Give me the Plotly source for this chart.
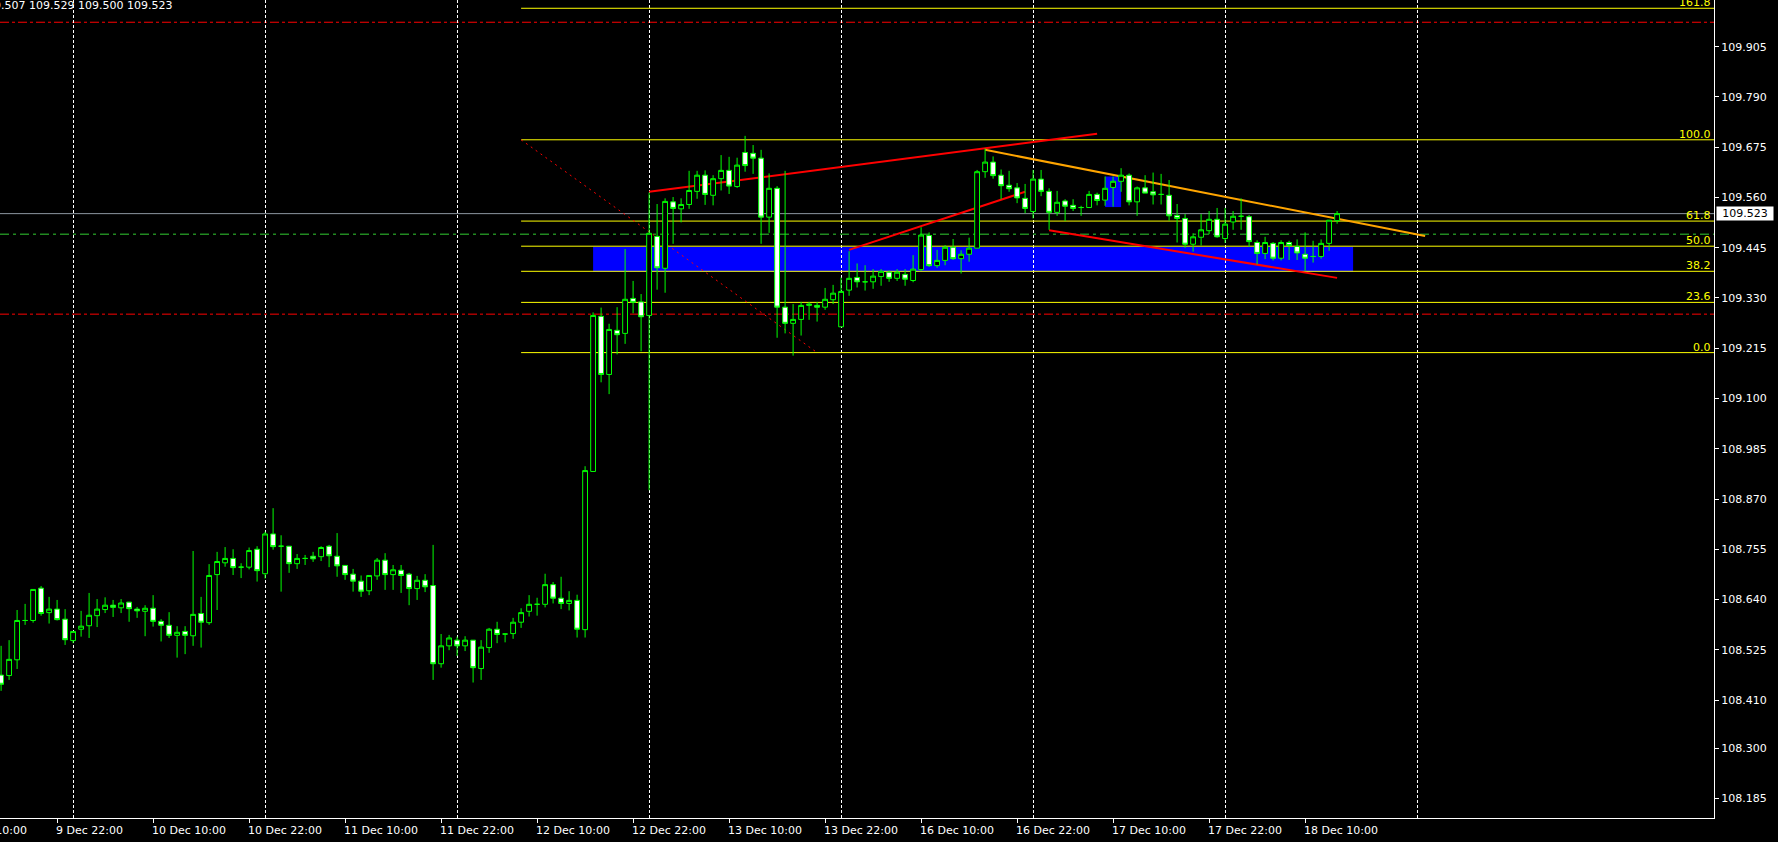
import plotly.graph_objects as go

# ---------------- data (USDJPY H1) ----------------
opens = [108.467, 108.466, 108.502, 108.592, 108.592, 108.666, 108.610, 108.618, 108.595, 108.546,
         108.572, 108.580, 108.603, 108.617, 108.627, 108.621, 108.634, 108.618, 108.613, 108.620,
         108.590, 108.581, 108.558, 108.567, 108.557, 108.608, 108.587, 108.697, 108.724, 108.734,
         108.714, 108.714, 108.755, 108.699, 108.790, 108.762, 108.762, 108.722, 108.734, 108.739,
         108.738, 108.762, 108.739, 108.718, 108.698, 108.682, 108.660, 108.694, 108.730, 108.697,
         108.707, 108.698, 108.665, 108.684, 108.672, 108.493, 108.534, 108.547, 108.534, 108.547,
         108.482, 108.530, 108.572, 108.561, 108.562, 108.588, 108.613, 108.629, 108.629, 108.674,
         108.643, 108.631, 108.638, 108.571, 108.933, 109.288, 109.155, 109.256, 109.249, 109.329,
         109.321, 109.290, 109.471, 109.398, 109.550, 109.534, 109.544, 109.574, 109.611, 109.565,
         109.603, 109.622, 109.585, 109.663, 109.661, 109.650, 109.515, 109.581, 109.309, 109.272,
         109.281, 109.313, 109.313, 109.309, 109.326, 109.264, 109.348, 109.377, 109.367, 109.367,
         109.379, 109.389, 109.375, 109.384, 109.370, 109.395, 109.473, 109.404, 109.416, 109.446,
         109.420, 109.430, 109.444, 109.619, 109.641, 109.611, 109.588, 109.582, 109.558, 109.528,
         109.602, 109.574, 109.526, 109.552, 109.542, 109.537, 109.537, 109.567, 109.554, 109.583,
         109.597, 109.611, 109.550, 109.582, 109.573, 109.567, 109.565, 109.519, 109.512, 109.453,
         109.469, 109.484, 109.510, 109.466, 109.504, 109.517, 109.516, 109.457, 109.432, 109.455,
         109.421, 109.457, 109.448, 109.430, 109.425, 109.425, 109.455, 109.507]
highs = [108.534, 108.547, 108.616, 108.630, 108.663, 108.671, 108.646, 108.639, 108.618, 108.567,
         108.614, 108.655, 108.641, 108.645, 108.639, 108.641, 108.634, 108.623, 108.627, 108.650,
         108.595, 108.611, 108.579, 108.579, 108.751, 108.646, 108.721, 108.749, 108.760, 108.755,
         108.723, 108.759, 108.762, 108.795, 108.849, 108.787, 108.762, 108.744, 108.742, 108.749,
         108.762, 108.765, 108.792, 108.718, 108.710, 108.695, 108.695, 108.735, 108.746, 108.719,
         108.719, 108.701, 108.694, 108.698, 108.765, 108.561, 108.559, 108.555, 108.556, 108.547,
         108.547, 108.575, 108.589, 108.562, 108.598, 108.620, 108.650, 108.644, 108.699, 108.680,
         108.692, 108.659, 108.651, 108.945, 109.297, 109.308, 109.271, 109.309, 109.442, 109.369,
         109.339, 109.571, 109.545, 109.558, 109.561, 109.558, 109.621, 109.621, 109.622, 109.611,
         109.657, 109.653, 109.651, 109.701, 109.680, 109.669, 109.615, 109.586, 109.621, 109.316,
         109.321, 109.321, 109.321, 109.353, 109.360, 109.377, 109.437, 109.409, 109.405, 109.396,
         109.396, 109.393, 109.396, 109.396, 109.428, 109.492, 109.480, 109.440, 109.451, 109.465,
         109.439, 109.468, 109.623, 109.672, 109.654, 109.624, 109.621, 109.593, 109.591, 109.623,
         109.623, 109.581, 109.575, 109.556, 109.556, 109.541, 109.575, 109.571, 109.608, 109.608,
         109.627, 109.615, 109.585, 109.611, 109.617, 109.614, 109.600, 109.545, 109.522, 109.478,
         109.522, 109.529, 109.536, 109.536, 109.529, 109.558, 109.520, 109.462, 109.470, 109.458,
         109.462, 109.461, 109.464, 109.480, 109.461, 109.464, 109.508, 109.529]
lows = [108.431, 108.456, 108.481, 108.582, 108.587, 108.603, 108.585, 108.592, 108.536, 108.540,
        108.555, 108.552, 108.577, 108.609, 108.600, 108.609, 108.589, 108.598, 108.556, 108.578,
        108.544, 108.552, 108.507, 108.515, 108.534, 108.530, 108.582, 108.616, 108.715, 108.696,
        108.689, 108.709, 108.681, 108.688, 108.754, 108.658, 108.701, 108.710, 108.719, 108.726,
        108.728, 108.714, 108.692, 108.685, 108.658, 108.646, 108.650, 108.685, 108.662, 108.662,
        108.655, 108.627, 108.639, 108.657, 108.456, 108.484, 108.524, 108.511, 108.522, 108.450,
        108.456, 108.518, 108.540, 108.542, 108.550, 108.575, 108.601, 108.603, 108.622, 108.631,
        108.618, 108.615, 108.553, 108.553, 108.933, 109.137, 109.110, 109.201, 109.225, 109.295,
        109.208, 108.890, 109.349, 109.342, 109.454, 109.503, 109.534, 109.557, 109.543, 109.542,
        109.576, 109.568, 109.582, 109.619, 109.614, 109.454, 109.479, 109.239, 109.249, 109.198,
        109.244, 109.280, 109.276, 109.303, 109.316, 109.264, 109.335, 109.354, 109.347, 109.351,
        109.358, 109.367, 109.369, 109.358, 109.366, 109.392, 109.401, 109.399, 109.405, 109.417,
        109.386, 109.413, 109.444, 109.605, 109.603, 109.556, 109.573, 109.547, 109.524, 109.512,
        109.563, 109.486, 109.518, 109.506, 109.529, 109.518, 109.537, 109.542, 109.541, 109.539,
        109.573, 109.542, 109.518, 109.570, 109.544, 109.544, 109.507, 109.457, 109.445, 109.436,
        109.450, 109.476, 109.468, 109.456, 109.486, 109.486, 109.447, 109.407, 109.419, 109.416,
        109.416, 109.417, 109.417, 109.392, 109.411, 109.420, 109.438, 109.500]
closes = [108.446, 108.503, 108.592, 108.592, 108.663, 108.608, 108.618, 108.594, 108.548, 108.567,
          108.579, 108.604, 108.618, 108.627, 108.622, 108.632, 108.619, 108.614, 108.620, 108.590,
          108.581, 108.558, 108.565, 108.558, 108.606, 108.588, 108.695, 108.727, 108.734, 108.713,
          108.714, 108.752, 108.706, 108.790, 108.761, 108.762, 108.722, 108.734, 108.734, 108.733,
          108.759, 108.740, 108.717, 108.697, 108.682, 108.659, 108.695, 108.730, 108.697, 108.708,
          108.695, 108.665, 108.684, 108.669, 108.493, 108.534, 108.552, 108.534, 108.547, 108.484,
          108.531, 108.572, 108.560, 108.561, 108.588, 108.610, 108.629, 108.629, 108.674, 108.643,
          108.631, 108.638, 108.572, 108.935, 109.290, 109.155, 109.258, 109.246, 109.327, 109.320,
          109.287, 109.478, 109.399, 109.551, 109.535, 109.544, 109.576, 109.611, 109.567, 109.603,
          109.622, 109.586, 109.634, 109.633, 109.650, 109.515, 109.581, 109.309, 109.272, 109.281,
          109.313, 109.316, 109.309, 109.327, 109.341, 109.345, 109.375, 109.367, 109.367, 109.380,
          109.391, 109.375, 109.389, 109.373, 109.396, 109.474, 109.404, 109.416, 109.446, 109.420,
          109.430, 109.444, 109.619, 109.641, 109.610, 109.587, 109.580, 109.559, 109.535, 109.602,
          109.574, 109.526, 109.549, 109.540, 109.535, 109.537, 109.567, 109.553, 109.581, 109.597,
          109.611, 109.550, 109.582, 109.570, 109.566, 109.567, 109.518, 109.512, 109.453, 109.470,
          109.486, 109.510, 109.470, 109.499, 109.517, 109.517, 109.459, 109.432, 109.457, 109.421,
          109.457, 109.450, 109.433, 109.421, 109.425, 109.455, 109.508, 109.523]
bars = list(range(len(opens)))

label_bars = [7, 19, 31, 43, 55, 67, 79, 91, 103, 115, 127, 139, 151, 163]
label_texts = ["9 Dec 22:00", "10 Dec 10:00", "10 Dec 22:00", "11 Dec 10:00", "11 Dec 22:00",
               "12 Dec 10:00", "12 Dec 22:00", "13 Dec 10:00", "13 Dec 22:00", "16 Dec 10:00",
               "16 Dec 22:00", "17 Dec 10:00", "17 Dec 22:00", "18 Dec 10:00"]
grid_bars = [9, 33, 57, 81, 105, 129, 153, 177]
price_ticks = [108.185, 108.300, 108.410, 108.525, 108.640, 108.755, 108.870, 108.985,
               109.100, 109.215, 109.330, 109.445, 109.560, 109.675, 109.790, 109.905]
price_top_label = 110.020

fib_high = 109.692
fib_low = 109.205
fib_ratios = [0.0, 23.6, 38.2, 50.0, 61.8, 100.0, 161.8]
fib_from_bar = 65
fib_to_bar = 102

trend_red = [((81, 109.573), (137, 109.706)),
             ((106, 109.440), (128, 109.573)),
             ((131, 109.485), (167, 109.376))]
trend_orange = ((123, 109.669), (178, 109.472))
red_levels = [109.961, 109.293]
green_level = 109.476
last_price = 109.523
zones = [((74, 109.390), (169, 109.447)), ((138, 109.538), (140, 109.608))]
header_text = "109.507 109.529 109.500 109.523"

# ---------------- figure ----------------
FONT = "DejaVu Sans"
LIME = "#00FF00"

fig = go.Figure()
fig.add_trace(go.Candlestick(
    x=bars, open=opens, high=highs, low=lows, close=closes,
    increasing=dict(line=dict(color=LIME, width=1), fillcolor="#000000"),
    decreasing=dict(line=dict(color=LIME, width=1), fillcolor="#FFFFFF"),
    whiskerwidth=0, showlegend=False, hoverinfo="skip"))

shapes = []
for (x0, y0), (x1, y1) in zones:
    shapes.append(dict(type="rect", xref="x", yref="y", x0=x0, x1=x1, y0=y0, y1=y1,
                       fillcolor="#0000FF", line=dict(width=0), layer="below"))
for lv in red_levels:
    shapes.append(dict(type="line", xref="paper", yref="y", x0=0, x1=1, y0=lv, y1=lv,
                       line=dict(color="#FF0000", width=1, dash="9px,3px,3px,3px"), layer="between"))
shapes.append(dict(type="line", xref="paper", yref="y", x0=0, x1=1, y0=green_level, y1=green_level,
                   line=dict(color="#32CD32", width=1, dash="9px,4px,3px,4px"), layer="between"))
shapes.append(dict(type="line", xref="paper", yref="y", x0=0, x1=1, y0=last_price, y1=last_price,
                   line=dict(color="#8C96A0", width=1), layer="between"))
fib_levels = [fib_low + (fib_high - fib_low) * r / 100.0 for r in fib_ratios]
for lv in fib_levels:
    shapes.append(dict(type="line", xref="x", yref="y", x0=fib_from_bar, x1=300, y0=lv, y1=lv,
                       line=dict(color="#FFFF00", width=1), layer="between"))
shapes.append(dict(type="line", xref="x", yref="y", x0=fib_from_bar, x1=fib_to_bar,
                   y0=fib_high, y1=fib_low, line=dict(color="#FF0000", width=1, dash="2px,4px"),
                   layer="between"))
for (x0, y0), (x1, y1) in trend_red:
    shapes.append(dict(type="line", xref="x", yref="y", x0=x0, x1=x1, y0=y0, y1=y1,
                       line=dict(color="#FF0000", width=2), layer="between"))
(ox0, oy0), (ox1, oy1) = trend_orange
shapes.append(dict(type="line", xref="x", yref="y", x0=ox0, x1=ox1, y0=oy0, y1=oy1,
                   line=dict(color="#FFA500", width=2), layer="between"))

annotations = []
for b, t in zip(label_bars, label_texts):
    annotations.append(dict(x=b, y=0, xref="x", yref="paper", text=t, showarrow=False,
                            xanchor="left", yanchor="top", xshift=-3, yshift=-4,
                            font=dict(family=FONT, size=11, color="#FFFFFF")))
annotations.append(dict(x=0, y=0, xref="paper", yref="paper", text="9 Dec 10:00", showarrow=False,
                        xanchor="right", yanchor="top", xshift=29, yshift=-4,
                        font=dict(family=FONT, size=11, color="#FFFFFF")))
for r, lv in zip(fib_ratios, fib_levels):
    annotations.append(dict(x=1, y=lv, xref="paper", yref="y", text=f"{r:.1f}", showarrow=False,
                            xanchor="right", yanchor="bottom", xshift=-1, yshift=-3,
                            font=dict(family=FONT, size=11, color="#FFFF00")))
annotations.append(dict(x=1, y=last_price, xref="paper", yref="y", text=f"{last_price:.3f}",
                        showarrow=False, xanchor="left", yanchor="middle", xshift=2,
                        bgcolor="#FFFFFF", borderpad=0, width=56, height=13,
                        font=dict(family=FONT, size=11, color="#000000")))
annotations.append(dict(x=1, y=price_top_label, xref="paper", yref="y", text=f"{price_top_label:.3f}",
                        showarrow=False, xanchor="left", yanchor="middle", xshift=4,
                        font=dict(family=FONT, size=11, color="#FFFFFF")))
annotations.append(dict(x=0, y=1, xref="paper", yref="paper", text=header_text, showarrow=False,
                        xanchor="right", yanchor="top", xshift=174, yshift=3,
                        font=dict(family=FONT, size=11, color="#FFFFFF")))

fig.update_layout(
    width=1778, height=842,
    margin=dict(l=0, r=64, t=0, b=24),
    paper_bgcolor="#000000", plot_bgcolor="#000000",
    boxgap=0.4, boxgroupgap=0,
    showlegend=False,
    shapes=shapes, annotations=annotations,
    font=dict(family=FONT, size=11, color="#FFFFFF"),
    xaxis=dict(range=[-0.1375, 214.1125], rangeslider=dict(visible=False),
               tickmode="array", tickvals=label_bars, ticktext=label_texts, showticklabels=False,
               ticks="outside", ticklen=4, tickcolor="#FFFFFF", tickwidth=1,
               showgrid=False, zeroline=False, showline=True, linecolor="#FFFFFF", linewidth=1,
               minor=dict(tickmode="array", tickvals=grid_bars, showgrid=True, gridcolor="#FFFFFF",
                          gridwidth=1, griddash="3px,2px", ticks="")),
    yaxis=dict(side="right", range=[108.1400, 110.0119], tickmode="array", tickvals=price_ticks,
               ticktext=[f"{v:.3f}" for v in price_ticks], ticks="outside", ticklen=4,
               tickcolor="#FFFFFF", tickfont=dict(family=FONT, size=11, color="#FFFFFF"),
               showgrid=False, zeroline=False, showline=True, linecolor="#FFFFFF", linewidth=1),
)

fig.write_html("out.html", config={"displayModeBar": False},
               post_script="document.body.style.margin='0';document.body.style.overflow='hidden';")
